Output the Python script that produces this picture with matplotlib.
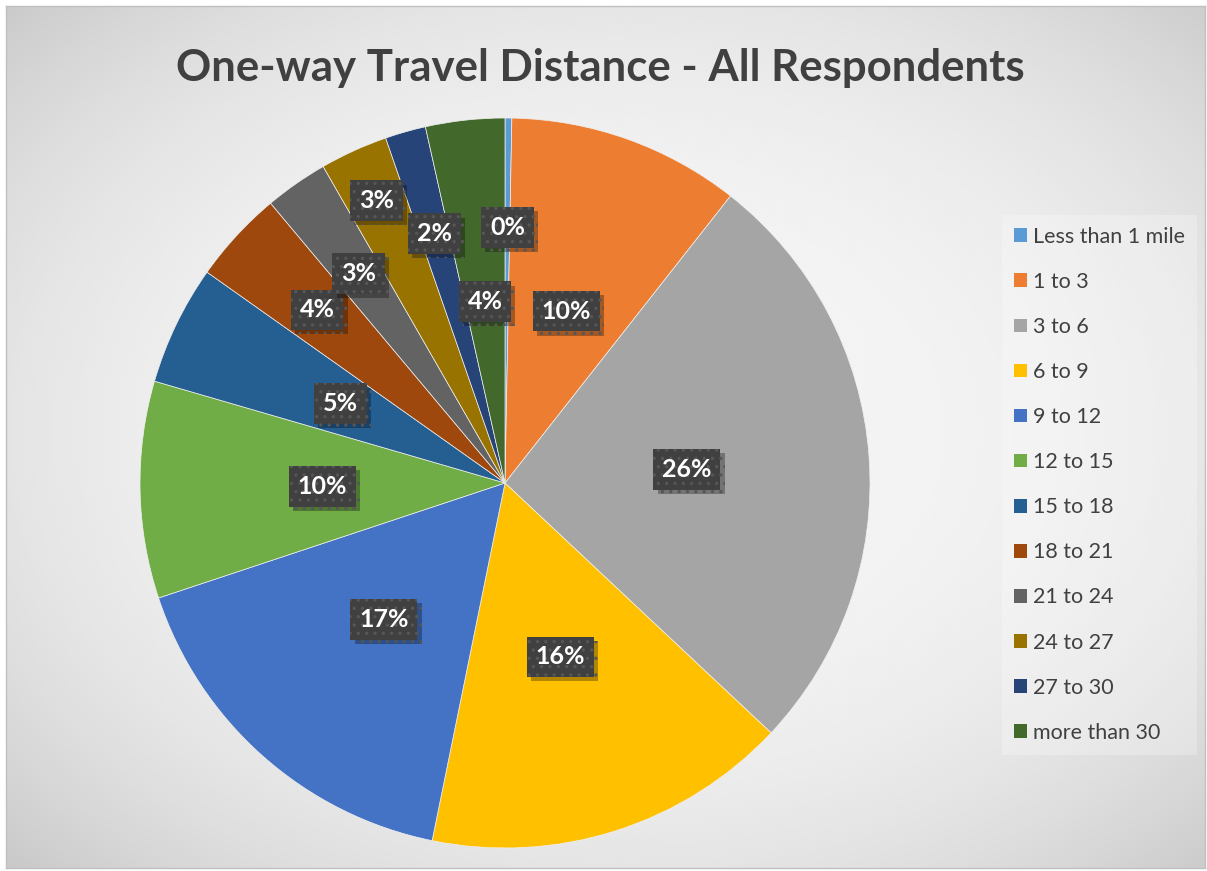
import numpy as np
import matplotlib.pyplot as plt
import matplotlib.patheffects as pe
from matplotlib.patches import Patch

categories = ["Less than 1 mile", "1 to 3", "3 to 6", "6 to 9", "9 to 12", "12 to 15",
              "15 to 18", "18 to 21", "21 to 24", "24 to 27", "27 to 30", "more than 30"]
shares = [0.3, 10.3, 26.4, 16.2, 16.7, 9.6, 5.3, 4.1, 2.8, 3.0, 1.8, 3.5]
labels = ["0%", "10%", "26%", "16%", "17%", "10%", "5%", "4%", "3%", "3%", "2%", "4%"]
colors = ["#5B9BD5", "#ED7D31", "#A5A5A5", "#FFC000", "#4472C4", "#70AD47",
          "#255E91", "#9E480E", "#636363", "#997300", "#264478", "#43682B"]
# how far out (fraction of radius) each data label sits
label_r = [0.70, 0.50, 0.50, 0.50, 0.50, 0.50, 0.50, 0.70, 0.70, 0.85, 0.71, 0.50]

W, H = 1207, 871
plt.rcParams["font.family"] = ["Lato", "DejaVu Sans"]
plt.rcParams["hatch.linewidth"] = 1.2

fig = plt.figure(figsize=(W / 100, H / 100), dpi=100)
fig.patch.set_facecolor("white")

# chart area with radial gradient
bw, bh = W - 8, H - 9
bg = fig.add_axes([6 / W, 3 / H, bw / W, bh / H])
yy, xx = np.mgrid[0:bh:2, 0:bw:2]
cx, cy = 620 - 6, 430 - 6
d = np.sqrt(((xx - cx) / 615) ** 2 + ((yy - cy) / 440) ** 2) / np.sqrt(2)
val = np.clip((245 - 45 * d ** 2.8) / 255, 0, 1)
bg.imshow(val, cmap="gray", vmin=0, vmax=1, aspect="auto", interpolation="bicubic")
bg.set_xticks([])
bg.set_yticks([])
for s in bg.spines.values():
    s.set_color("#c0c0c0")
    s.set_linewidth(1.0)

# pie
R = 365
cxp, cyp = 505, 483
ax = fig.add_axes([(cxp - R) / W, (H - cyp - R) / H, 2 * R / W, 2 * R / H])
ax.set_facecolor("none")
wedges, _ = ax.pie(shares, colors=colors, startangle=90, counterclock=False,
                   radius=1.0, wedgeprops=dict(edgecolor="#f0f0f0", linewidth=0.5))
ax.set_xlim(-1, 1)
ax.set_ylim(-1, 1)
ax.set_aspect("equal")
ax.axis("off")

total = sum(shares)
acc = 0.0
for v, lab, r in zip(shares, labels, label_r):
    mid = acc + v / 2
    acc += v
    ang = np.deg2rad(90 - 360 * mid / total)
    t = ax.text(r * np.cos(ang), r * np.sin(ang), lab, ha="center", va="center",
                color="white", fontsize=18, fontweight="bold", zorder=5,
                bbox=dict(boxstyle="square,pad=0.35", facecolor="#404040",
                          edgecolor="#565656", linewidth=0, hatch=".."))
    t.get_bbox_patch().set_path_effects(
        [pe.SimplePatchShadow(offset=(3, -3), shadow_rgbFace="black", alpha=0.3), pe.Normal()])

fig.text(600 / W, 1 - 68 / H, "One-way Travel Distance - All Respondents", ha="center",
         va="center", fontsize=31.5, fontweight="bold", color="#404040")

handles = [Patch(facecolor=c, edgecolor="none") for c in colors]
leg = fig.legend(handles, categories, loc="upper left",
                 bbox_to_anchor=(1002 / W, 1 - 215 / H), frameon=True, fontsize=15.5,
                 handlelength=0.6, handleheight=0.6, handletextpad=0.3,
                 labelspacing=1.165, borderpad=0.55, borderaxespad=0, fancybox=False)
leg.get_frame().set_facecolor("white")
leg.get_frame().set_alpha(0.25)
leg.get_frame().set_edgecolor("none")
for txt in leg.get_texts():
    txt.set_color("#404040")

fig.savefig("out.png", dpi=100, facecolor="white")
